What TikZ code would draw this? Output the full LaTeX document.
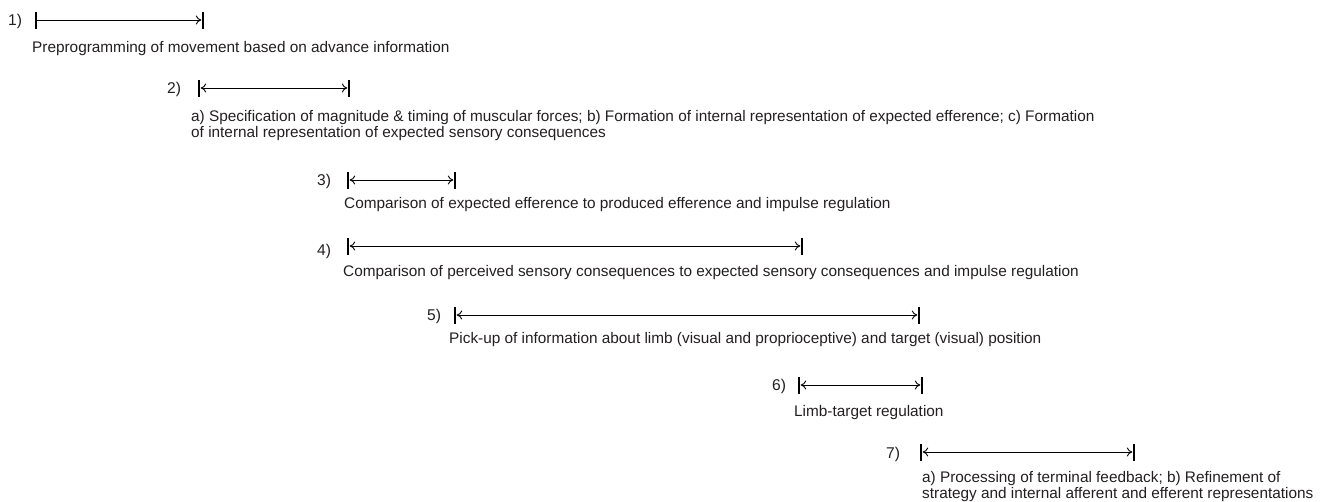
\documentclass[tikz,border=0pt]{standalone}
\usepackage{fontspec}
\setmainfont{Liberation Sans}
\usetikzlibrary{arrows.meta}
\definecolor{txt}{HTML}{231F20}
\tikzset{
  lbl/.style={anchor=base west, inner sep=0pt, text=txt, font=\fontsize{15.6}{15.5}\selectfont},
  desc/.style={anchor=base west, inner sep=0pt, text=txt, align=left, font=\fontsize{15.35}{15.5}\selectfont},
  tickmark/.style={fill=black, inner sep=0pt, minimum width=2pt, minimum height=17pt, draw=none},
  arr/.style={line width=0.9pt, {To[length=5.5pt,width=9pt]}-{To[length=5.5pt,width=9pt]}, shorten <=0.5pt, shorten >=0.5pt},
  arrone/.style={line width=0.9pt, -{To[length=5.5pt,width=9pt]}, shorten >=0.5pt}
}
\begin{document}
\begin{tikzpicture}[x=1pt,y=-1pt]
\useasboundingbox (0,0) rectangle (1324,501);
% row 1
\node[lbl] (n1) at (8,25) {1)};
\node[tickmark] (a1) at (36,20) {};
\node[tickmark] (b1) at (203,20) {};
\draw[arrone] (a1) -- (b1);
\node[desc] (t1) at (32,52) {Preprogramming of movement based on advance information};
% row 2
\node[lbl] (n2) at (167,93) {2)};
\node[tickmark] (a2) at (199,88) {};
\node[tickmark] (b2) at (349,88) {};
\draw[arr] (a2) -- (b2);
\node[desc] (t2) at (191,137) {a) Specification of magnitude \& timing of muscular forces; b) Formation of internal representation of expected efference; c) Formation\\of internal representation of expected sensory consequences};
% row 3
\node[lbl] (n3) at (317,185) {3)};
\node[tickmark] (a3) at (348,180) {};
\node[tickmark] (b3) at (455,180) {};
\draw[arr] (a3) -- (b3);
\node[desc] (t3) at (344,208) {Comparison of expected efference to produced efference and impulse regulation};
% row 4
\node[lbl] (n4) at (317,255) {4)};
\node[tickmark] (a4) at (348,246) {};
\node[tickmark] (b4) at (802,246) {};
\draw[arr] (a4) -- (b4);
\node[desc] (t4) at (343,276) {Comparison of perceived sensory consequences to expected sensory consequences and impulse regulation};
% row 5
\node[lbl] (n5) at (427,320) {5)};
\node[tickmark] (a5) at (455,315) {};
\node[tickmark] (b5) at (919,315) {};
\draw[arr] (a5) -- (b5);
\node[desc] (t5) at (449,343) {Pick-up of information about limb (visual and proprioceptive) and target (visual) position};
% row 6
\node[lbl] (n6) at (772,390) {6)};
\node[tickmark] (a6) at (799,385) {};
\node[tickmark] (b6) at (922,385) {};
\draw[arr] (a6) -- (b6);
\node[desc] (t6) at (794,416) {Limb-target regulation};
% row 7
\node[lbl] (n7) at (886,458) {7)};
\node[tickmark] (a7) at (921,452) {};
\node[tickmark] (b7) at (1134,452) {};
\draw[arr] (a7) -- (b7);
\node[desc] (t7) at (922,498) {a) Processing of terminal feedback; b) Refinement of\\strategy and internal afferent and efferent representations};
\end{tikzpicture}
\end{document}
